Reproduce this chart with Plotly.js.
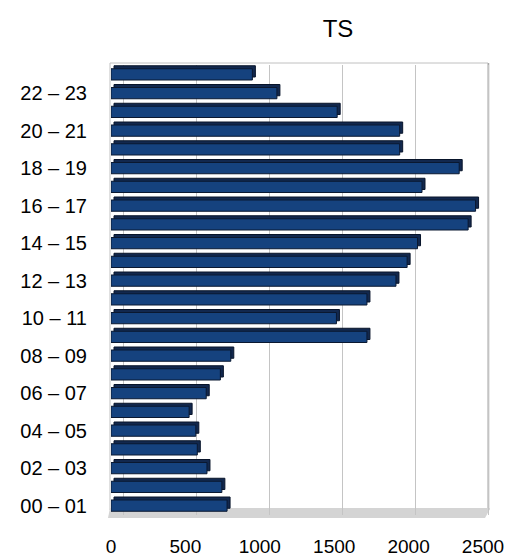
<!DOCTYPE html>
<html>
<head>
<meta charset="utf-8">
<script src="https://cdn.plot.ly/plotly-3.0.1.min.js"></script>
<style>
  html, body { margin: 0; padding: 0; background: #fff; }
  #chart { width: 510px; height: 559px; }
</style>
</head>
<body>
<div id="chart"></div>
<script>
// Hourly time slots, bottom to top
const hours = [
  "00 – 01", "01 – 02", "02 – 03", "03 – 04", "04 – 05", "05 – 06",
  "06 – 07", "07 – 08", "08 – 09", "09 – 10", "10 – 11", "11 – 12",
  "12 – 13", "13 – 14", "14 – 15", "15 – 16", "16 – 17", "17 – 18",
  "18 – 19", "19 – 20", "20 – 21", "21 – 22", "22 – 23", "23 – 24"
];
// TS count per hour slot
const tsValues = [
  780, 745, 645, 580, 570, 525,
  640, 735, 805, 1720, 1515, 1720,
  1915, 1990, 2060, 2400, 2450, 2090,
  2340, 1940, 1940, 1520, 1115, 950
];
// Every second slot carries a label
const labelledHours = hours.filter((h, i) => i % 2 === 0);
const xTicks = [0, 500, 1000, 1500, 2000, 2500];

const W = 510, H = 559;
const M = { l: 111, r: 20, t: 65, b: 44 };
const plotW = W - M.l - M.r, plotH = H - M.t - M.b;
const xMax = 2547;
const unitPx = plotW / xMax;
// pixel helpers for the decorative box
const px = v => (v - M.l) / plotW;
const py = v => (H - M.b - v) / plotH;

const barWidth = 0.6;
const depthPx = 3;
const depthX = depthPx / unitPx;
const depthY = depthPx / (plotH / hours.length);

const font = "Liberation Sans, Arial, sans-serif";

// back face of each bar, pushed up and to the right to fake depth
const depth = {
  type: "bar", orientation: "h",
  y: hours, x: tsValues,
  base: tsValues.map(() => depthX),
  width: barWidth, offset: -barWidth / 2 + depthY,
  marker: { color: "#12284e", line: { color: "#08142a", width: 1 } },
  hoverinfo: "skip", showlegend: false
};
// front face
const front = {
  type: "bar", orientation: "h",
  y: hours, x: tsValues,
  width: barWidth, offset: -barWidth / 2,
  marker: { color: "#15427e", line: { color: "#0a1830", width: 1 } },
  showlegend: false
};
// carrier for the back-wall grid axis
const wallGrid = {
  type: "scatter", mode: "markers", xaxis: "x2", yaxis: "y",
  x: [0], y: [hours[0]], marker: { opacity: 0 },
  hoverinfo: "skip", showlegend: false
};

const layout = {
  width: W, height: H,
  margin: M,
  paper_bgcolor: "#fff", plot_bgcolor: "rgba(0,0,0,0)",
  barmode: "overlay",
  title: {
    text: "TS",
    font: { family: font, size: 24, color: "#000" },
    x: 338 / W, xref: "container", xanchor: "center",
    y: 1 - 29 / H, yref: "container", yanchor: "middle"
  },
  xaxis: {
    range: [0, xMax],
    tickmode: "array", tickvals: xTicks, ticktext: xTicks.map(String),
    showgrid: false, zeroline: false, showline: false, ticks: "",
    ticklabelstandoff: 18,
    tickfont: { family: font, size: 19, color: "#000" }
  },
  // grid drawn on the back wall, slightly offset from the front scale
  xaxis2: {
    overlaying: "x",
    range: [(M.l - 123) / 0.146, (M.l + plotW - 123) / 0.146],
    tickmode: "linear", tick0: 0, dtick: 500,
    showgrid: true, gridcolor: "#c4c4c4", gridwidth: 1,
    showticklabels: false, zeroline: false, showline: false, ticks: ""
  },
  yaxis: {
    type: "category", categoryorder: "array", categoryarray: hours,
    range: [-0.5, hours.length - 0.5],
    tickmode: "array", tickvals: labelledHours, ticktext: labelledHours,
    showgrid: false, zeroline: false, showline: false, ticks: "",
    ticklabelstandoff: 23,
    tickfont: { family: font, size: 20, color: "#000" }
  },
  shapes: [
    // back wall outline
    { type: "rect", xref: "paper", yref: "paper", layer: "below",
      x0: px(110), x1: px(488), y0: py(510), y1: py(63),
      line: { color: "#c0c0c0", width: 1 }, fillcolor: "rgba(0,0,0,0)" },
    { type: "line", xref: "paper", yref: "paper", layer: "below",
      x0: px(488.5), x1: px(488.5), y0: py(510), y1: py(63),
      line: { color: "#a8a8a8", width: 1.5 } },
    // floor slab
    { type: "path", xref: "paper", yref: "paper", layer: "between",
      path: `M ${px(108)} ${py(518)} L ${px(485)} ${py(518)} L ${px(490)} ${py(509)} L ${px(490)} ${py(508)} L ${px(110)} ${py(508)} Z`,
      fillcolor: "#d4d4d4", line: { width: 0 } }
  ]
};

Plotly.newPlot("chart", [wallGrid, depth, front], layout, { displayModeBar: false, staticPlot: true });
</script>
</body>
</html>
